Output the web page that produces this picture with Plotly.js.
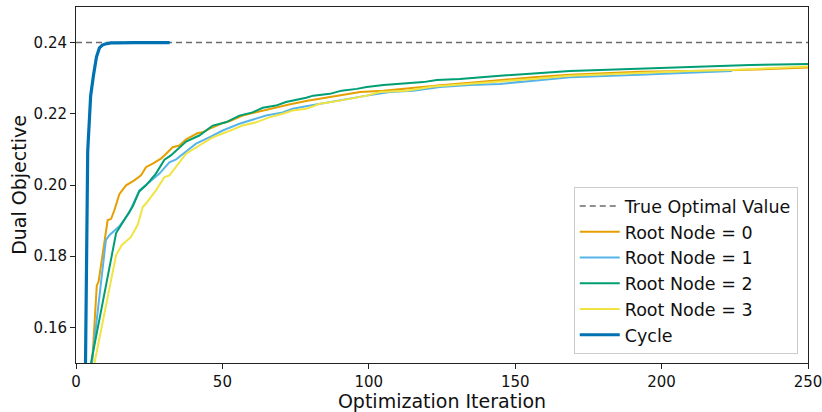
<!DOCTYPE html>
<html>
<head>
<meta charset="utf-8">
<script src="https://cdn.plot.ly/plotly-3.0.1.min.js"></script>
<style>html,body{margin:0;padding:0;background:#fff;}#chart{width:822px;height:412px;}</style>
</head>
<body>
<div id="chart"></div>
<script>
// ---- data ----
const trueOptimalX = [0, 250];
const trueOptimalY = [0.24, 0.24];

const root0X = [3, 5, 7.1, 7.7, 10.8, 12, 13.1, 14.8, 17.1, 19.9, 22.2, 23.9, 26.2, 29, 31.3, 33, 35.3, 37.6, 41.6, 43.3, 45.5, 50.1, 52.4, 56.9, 60.3, 63.8, 68.3, 72.8, 78.6, 83.3, 90.2, 97, 105, 110.7, 118.6, 125.4, 134.6, 144.8, 156.2, 168.7, 179, 192.6, 209.7, 223.4, 250];
const root0Y = [0.125, 0.143, 0.1718, 0.1728, 0.1901, 0.1905, 0.1929, 0.1974, 0.1999, 0.2013, 0.2027, 0.2050, 0.2060, 0.2074, 0.2092, 0.2106, 0.2111, 0.2128, 0.2146, 0.2148, 0.2158, 0.2174, 0.2179, 0.2195, 0.2202, 0.2209, 0.2219, 0.2226, 0.2236, 0.2242, 0.2251, 0.2261, 0.2265, 0.2270, 0.2277, 0.2281, 0.2287, 0.2295, 0.2303, 0.2310, 0.2314, 0.2318, 0.2320, 0.2322, 0.2330];

const root1X = [3, 4, 10.2, 11.4, 14.8, 18.2, 21.6, 25, 28.5, 31.9, 34.2, 37.6, 41, 45.5, 50.1, 55.8, 60.3, 64.9, 70.6, 74, 78.6, 83.3, 90.2, 99.3, 107.2, 115.2, 124.3, 134.6, 144.8, 156.2, 168.7, 192.6, 206.3, 224];
const root1Y = [0.132, 0.140, 0.1845, 0.1859, 0.1884, 0.1922, 0.1984, 0.2008, 0.2032, 0.2064, 0.2072, 0.2094, 0.2116, 0.2134, 0.2153, 0.2172, 0.2183, 0.2195, 0.2204, 0.2214, 0.2221, 0.2228, 0.2237, 0.2251, 0.2261, 0.2265, 0.2275, 0.2281, 0.2284, 0.2293, 0.2303, 0.2310, 0.2314, 0.2320];

const root2X = [2, 3, 13.7, 14.8, 17.1, 19.4, 21.6, 23.9, 27.3, 30.2, 32.4, 34.2, 37.6, 42.1, 46.7, 51.2, 55.8, 60.3, 63.8, 68.3, 71.7, 78.6, 81, 86.7, 90.7, 95.9, 99.3, 105, 110.7, 118.6, 123.2, 131.1, 144.8, 156.2, 168.7, 179, 192.6, 209.7, 230.2, 250];
const root2Y = [0.137, 0.141, 0.1865, 0.1880, 0.1910, 0.1940, 0.1982, 0.1999, 0.2032, 0.2071, 0.2083, 0.2097, 0.2122, 0.2139, 0.2167, 0.2176, 0.2195, 0.2204, 0.2217, 0.2223, 0.2233, 0.2245, 0.2251, 0.2256, 0.2265, 0.2270, 0.2275, 0.2281, 0.2284, 0.2289, 0.2295, 0.2298, 0.2307, 0.2314, 0.2320, 0.2323, 0.2327, 0.2331, 0.2337, 0.2340];

const root3X = [4, 5, 13.7, 15.6, 18.8, 21.1, 22.8, 23.9, 27.3, 30.2, 31.9, 34.2, 37.6, 42.1, 46.7, 51.2, 56.9, 61.5, 66, 70.6, 74, 78.6, 83.3, 90.2, 99.3, 103.8, 112.9, 122, 134.6, 144.8, 156.2, 168.7, 192.6, 209.7, 223.4, 250];
const root3Y = [0.140, 0.1446, 0.1803, 0.1831, 0.1854, 0.1889, 0.1938, 0.1948, 0.1985, 0.2022, 0.2027, 0.2053, 0.2088, 0.2111, 0.2134, 0.2148, 0.2167, 0.2176, 0.2190, 0.2200, 0.2209, 0.2214, 0.2228, 0.2237, 0.2251, 0.2261, 0.2265, 0.2277, 0.2284, 0.2291, 0.2298, 0.2307, 0.2315, 0.2320, 0.2323, 0.2333];

const cycleX = [2, 3, 4, 5, 6, 7, 8, 9, 10, 11, 12, 14, 16, 20, 25, 32];
const cycleY = [0.10, 0.13, 0.2095, 0.2250, 0.2310, 0.2360, 0.2385, 0.2393, 0.2396, 0.2398, 0.2399, 0.23995, 0.2400, 0.2400, 0.2400, 0.2400];

const xTicks = [0, 50, 100, 150, 200, 250];
const yTicks = [0.16, 0.18, 0.20, 0.22, 0.24];

// ---- traces ----
const FONT = 'DejaVu Sans, sans-serif';
const traces = [
  {x: trueOptimalX, y: trueOptimalY, name: 'True Optimal Value', mode: 'lines',
   line: {color: '#6b6b6b', width: 1.5, dash: '6px,4px'}},
  {x: root0X, y: root0Y, name: 'Root Node = 0', mode: 'lines', line: {color: '#E69F00', width: 2}},
  {x: root1X, y: root1Y, name: 'Root Node = 1', mode: 'lines', line: {color: '#56B4E9', width: 2}},
  {x: root2X, y: root2Y, name: 'Root Node = 2', mode: 'lines', line: {color: '#009E73', width: 2}},
  {x: root3X, y: root3Y, name: 'Root Node = 3', mode: 'lines', line: {color: '#F0E442', width: 2}},
  {x: cycleX, y: cycleY, name: 'Cycle', mode: 'lines', line: {color: '#0072B2', width: 3.2}}
];

const axisCommon = {
  showline: true, linecolor: '#222', linewidth: 1, mirror: true,
  ticks: 'outside', ticklen: 5, tickwidth: 1, tickcolor: '#222',
  showgrid: false, zeroline: false, ticklabeloverflow: 'allow',
  tickfont: {family: FONT, size: 15, color: '#111'}
};

const layout = {
  width: 822, height: 412,
  margin: {l: 76, r: 14, t: 7, b: 49},
  paper_bgcolor: '#fff', plot_bgcolor: '#fff',
  showlegend: true,
  xaxis: Object.assign({}, axisCommon, {
    range: [0, 250], tickvals: xTicks, ticktext: xTicks.map(String),
    title: {text: 'Optimization Iteration', font: {family: FONT, size: 19, color: '#111'}, standoff: 0}
  }),
  yaxis: Object.assign({}, axisCommon, {
    range: [0.15, 0.25], tickvals: yTicks, ticktext: yTicks.map(v => v.toFixed(2)),
    title: {text: 'Dual Objective', font: {family: FONT, size: 19, color: '#111'}, standoff: 1}
  }),
  legend: {
    x: 0.986, y: 0.025, xanchor: 'right', yanchor: 'bottom',
    bgcolor: 'rgba(255,255,255,0.85)', bordercolor: '#cccccc', borderwidth: 1,
    font: {family: FONT, size: 17.5, color: '#111'},
    itemwidth: 40
  }
};

Plotly.newPlot('chart', traces, layout, {displayModeBar: false, staticPlot: true});
</script>
</body>
</html>
